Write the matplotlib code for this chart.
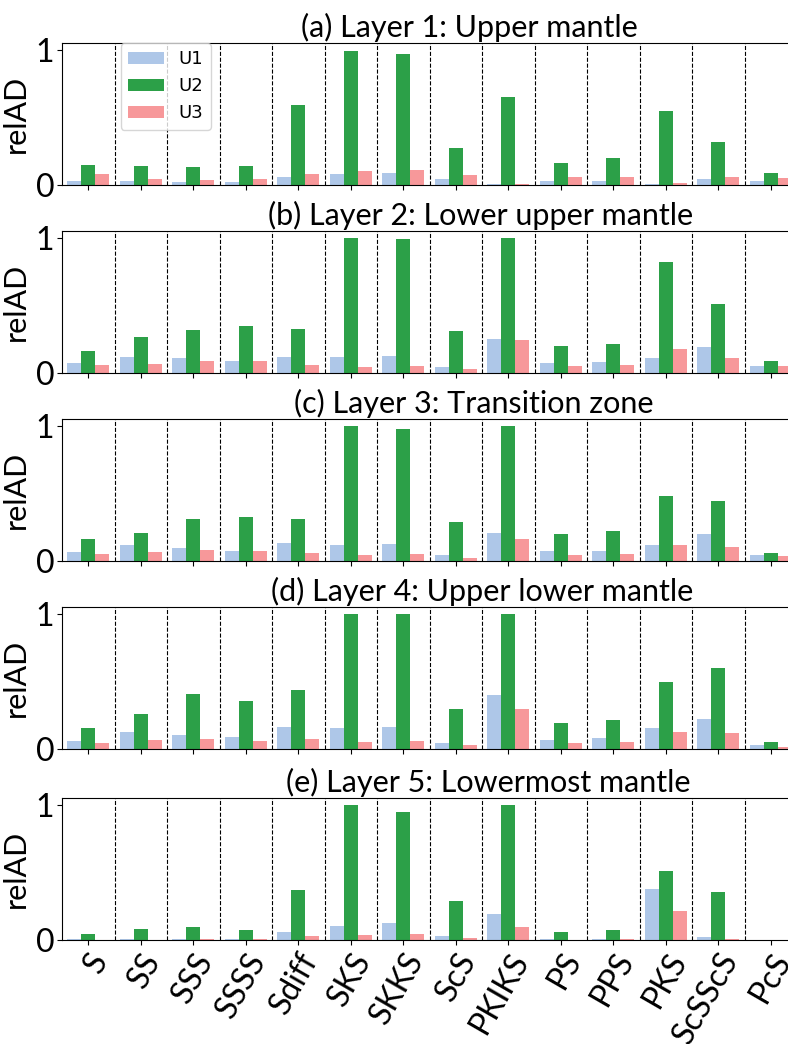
import matplotlib
matplotlib.use("Agg")
import matplotlib.pyplot as plt
import numpy as np

plt.rcParams["font.family"] = ["Lato", "DejaVu Sans"]

# --- Data ---
PHASES = ["S", "SS", "SSS", "SSSS", "Sdiff", "SKS", "SKKS", "ScS",
          "PKIKS", "PS", "PPS", "PKS", "ScSScS", "PcS"]
SERIES = ["U1", "U2", "U3"]
COLORS = {"U1": "#aec7e8", "U2": "#2ca048", "U3": "#f7989a"}

TITLES = [
    "(a) Layer 1: Upper mantle",
    "(b) Layer 2: Lower upper mantle",
    "(c) Layer 3: Transition zone",
    "(d) Layer 4: Upper lower mantle",
    "(e) Layer 5: Lowermost mantle",
]

layer1_u1 = [0.032, 0.030, 0.025, 0.025, 0.062, 0.084, 0.091, 0.047, 0.010, 0.032, 0.032, 0.010, 0.047, 0.032]
layer1_u2 = [0.150, 0.144, 0.136, 0.144, 0.590, 0.990, 0.970, 0.277, 0.650, 0.166, 0.203, 0.545, 0.315, 0.091]
layer1_u3 = [0.079, 0.047, 0.040, 0.047, 0.084, 0.106, 0.114, 0.077, 0.010, 0.062, 0.062, 0.017, 0.062, 0.054]

layer2_u1 = [0.071, 0.116, 0.108, 0.086, 0.116, 0.116, 0.123, 0.042, 0.249, 0.071, 0.079, 0.108, 0.190, 0.049]
layer2_u2 = [0.160, 0.264, 0.315, 0.345, 0.323, 1.000, 0.988, 0.308, 1.000, 0.197, 0.212, 0.818, 0.507, 0.086]
layer2_u3 = [0.057, 0.064, 0.086, 0.086, 0.057, 0.042, 0.049, 0.027, 0.241, 0.049, 0.057, 0.175, 0.108, 0.049]

layer3_u1 = [0.064, 0.115, 0.093, 0.071, 0.130, 0.115, 0.123, 0.042, 0.204, 0.071, 0.071, 0.115, 0.197, 0.042]
layer3_u2 = [0.160, 0.204, 0.307, 0.329, 0.314, 1.000, 0.978, 0.285, 1.000, 0.197, 0.219, 0.477, 0.447, 0.057]
layer3_u3 = [0.049, 0.064, 0.079, 0.071, 0.057, 0.042, 0.049, 0.020, 0.160, 0.042, 0.049, 0.115, 0.100, 0.034]

layer4_u1 = [0.059, 0.125, 0.103, 0.088, 0.162, 0.154, 0.162, 0.044, 0.397, 0.066, 0.081, 0.154, 0.221, 0.029]
layer4_u2 = [0.154, 0.257, 0.404, 0.353, 0.434, 1.000, 1.000, 0.294, 1.000, 0.191, 0.213, 0.493, 0.596, 0.051]
layer4_u3 = [0.044, 0.066, 0.074, 0.059, 0.074, 0.051, 0.059, 0.029, 0.294, 0.044, 0.051, 0.125, 0.118, 0.015]

layer5_u1 = [0.005, 0.005, 0.005, 0.005, 0.059, 0.103, 0.125, 0.029, 0.191, 0.005, 0.005, 0.375, 0.022, 0.003]
layer5_u2 = [0.044, 0.081, 0.096, 0.074, 0.368, 1.000, 0.949, 0.287, 1.000, 0.059, 0.074, 0.507, 0.353, 0.003]
layer5_u3 = [0.003, 0.002, 0.007, 0.006, 0.029, 0.037, 0.044, 0.015, 0.096, 0.003, 0.004, 0.213, 0.005, 0.003]

LAYERS = [
    (layer1_u1, layer1_u2, layer1_u3),
    (layer2_u1, layer2_u2, layer2_u3),
    (layer3_u1, layer3_u2, layer3_u3),
    (layer4_u1, layer4_u2, layer4_u3),
    (layer5_u1, layer5_u2, layer5_u3),
]

# --- Layout (pixels in a 788x1044 canvas) ---
W, H = 788, 1044
LEFT, RIGHT = 62, 797
PANEL_TOPS = [43, 231, 419, 607, 798]
PANEL_H = 142
TITLE_CX = [469, 481, 474, 482, 488]

fig = plt.figure(figsize=(W / 100, H / 100), dpi=100)
x = np.arange(len(PHASES))
w = 0.8 / 3

for k, (vals, title) in enumerate(zip(LAYERS, TITLES)):
    top = PANEL_TOPS[k]
    ax = fig.add_axes([LEFT / W, 1 - (top + PANEL_H) / H,
                       (RIGHT - LEFT) / W, PANEL_H / H])
    for j, (name, v) in enumerate(zip(SERIES, vals)):
        ax.bar(x + (j - 1) * w, v, width=w, color=COLORS[name], label=name)
    for b in x[:-1] + 0.5:
        ax.axvline(b, color="k", ls="--", lw=0.8, zorder=0)

    ax.set_xlim(-0.5, len(PHASES) - 0.5)
    ax.set_ylim(0, 1.05)
    ax.set_yticks([0, 1])
    ax.set_yticklabels(["0", "1"], fontsize=23)
    ax.set_ylabel("relAD", fontsize=22, labelpad=4)
    ax.set_xticks(x)
    if k == len(LAYERS) - 1:
        ax.set_xticklabels(PHASES, fontsize=23, rotation=60,
                           ha="right", rotation_mode="anchor")
    else:
        ax.set_xticklabels([])
    ax.tick_params(axis="both", length=3.5, pad=2)

    cx = (TITLE_CX[k] - LEFT) / (RIGHT - LEFT)
    ax.set_title(title, fontsize=22, x=cx, pad=4)

    if k == 0:
        ax.legend(loc="upper left", bbox_to_anchor=(0.08, 1.0),
                  borderaxespad=0, prop={"family": "DejaVu Sans", "size": 13})

fig.savefig("out.png", dpi=100)
